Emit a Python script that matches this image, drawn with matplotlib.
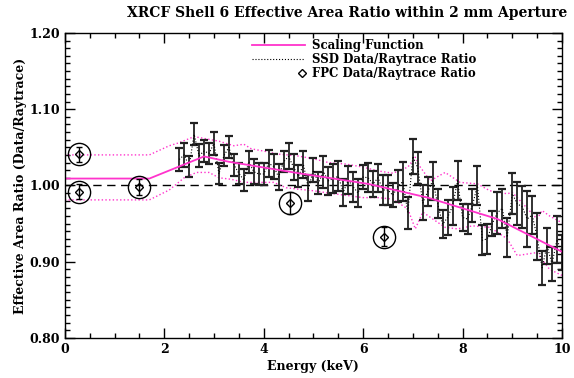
"""
XRCF Shell 6 effective area ratio (data/raytrace) within 2 mm aperture.
"""
import matplotlib
matplotlib.use('Agg')
import matplotlib.pyplot as plt
import numpy as np
from matplotlib.legend_handler import HandlerLine2D
from matplotlib.ticker import MultipleLocator, FormatStrFormatter

# SSD data/raytrace ratio (every 0.1 keV from 2.3 to 10.0 keV)
ssd_energy = np.round(np.arange(2.3, 10.05, 0.1), 1)
ssd_ratio = [
    1.034, 1.040, 1.025, 1.067, 1.039, 1.045, 1.042, 1.055, 1.015, 1.039,
    1.050, 1.027, 1.016, 1.007, 1.031, 1.018, 1.015, 1.015, 1.029, 1.025,
    1.011, 1.031, 1.038, 1.024, 1.012, 1.027, 0.996, 1.020, 1.003, 1.018,
    1.006, 1.009, 1.012, 0.991, 1.007, 0.998, 0.990, 1.011, 1.010, 1.002,
    1.010, 0.994, 0.994, 0.987, 0.999, 1.005, 0.964, 1.038, 1.023, 0.977,
    0.992, 1.006, 0.976, 0.949, 0.958, 0.973, 1.006, 0.958, 0.956, 0.974,
    1.000, 0.928, 0.930, 0.950, 0.964, 0.970, 0.932, 0.989, 0.976, 0.972,
    0.956, 0.961, 0.933, 0.892, 0.921, 0.897, 0.929, 0.912,
]
ssd_err = [
    0.0146, 0.0155, 0.0135, 0.0144, 0.0149, 0.0149, 0.0138, 0.0149, 0.0138, 0.0142,
    0.0144, 0.0146, 0.0138, 0.0146, 0.0142, 0.0164, 0.0149, 0.0144, 0.0175, 0.0164,
    0.0175, 0.0135, 0.0170, 0.0175, 0.0142, 0.0175, 0.0170, 0.0155, 0.0146, 0.0208,
    0.0186, 0.0186, 0.0199, 0.0175, 0.0186, 0.0201, 0.0186, 0.0153, 0.0192, 0.0175,
    0.0186, 0.0201, 0.0192, 0.0157, 0.0214, 0.0251, 0.0214, 0.0229, 0.0208, 0.0229,
    0.0190, 0.0249, 0.0192, 0.0181, 0.0232, 0.0247, 0.0256, 0.0175, 0.0197, 0.0218,
    0.0253, 0.0197, 0.0197, 0.0164, 0.0277, 0.0256, 0.0256, 0.0269, 0.0284, 0.0277,
    0.0365, 0.0247, 0.0306, 0.0225, 0.0234, 0.0218, 0.0306, 0.0227,
]

# Scaling function
scale_energy = [0.0, 1.7, 2.8, 3.3, 4.7, 6.1, 7.3, 8.7, 10.0]
scale_ratio = [1.009, 1.009, 1.038, 1.031, 1.016, 1.002, 0.984, 0.956, 0.913]

# Upper / lower envelopes (magenta dotted)
upper_energy = [0.0, 1.7, 2.1, 2.3, 2.6, 2.85, 3.1, 3.4, 3.6, 3.75, 4.0, 4.3,
                4.65, 5.0, 5.3, 5.65, 6.0, 6.3, 6.6, 6.9, 7.05, 7.15, 7.35,
                7.65, 7.95, 8.3, 8.55, 8.9, 9.0, 9.2, 9.5, 9.6, 9.75, 10.0]
upper_ratio = [1.040, 1.040, 1.052, 1.056, 1.064, 1.061, 1.058, 1.052, 1.054,
               1.048, 1.045, 1.041, 1.039, 1.035, 1.030, 1.028, 1.024, 1.019,
               1.016, 1.024, 1.037, 1.024, 1.006, 1.017, 1.004, 1.002, 0.993,
               0.989, 0.991, 0.977, 0.956, 0.967, 0.960, 0.951]
lower_energy = [0.0, 1.7, 2.1, 2.4, 2.65, 2.9, 3.1, 3.35, 3.6, 3.85, 4.2, 4.45,
                4.7, 5.0, 5.3, 5.65, 6.0, 6.3, 6.6, 6.9, 7.05, 7.2, 7.4, 7.65,
                7.9, 8.2, 8.55, 8.9, 9.1, 9.3, 9.5, 9.6, 9.75, 10.0]
lower_ratio = [0.981, 0.981, 0.994, 1.010, 1.017, 1.017, 1.010, 1.008, 1.004,
               1.004, 1.004, 0.997, 0.995, 0.993, 0.990, 0.987, 0.984, 0.984,
               0.982, 0.969, 0.943, 0.965, 0.956, 0.945, 0.943, 0.947, 0.945,
               0.930, 0.908, 0.910, 0.912, 0.903, 0.890, 0.882]

# FPC data/raytrace ratio
fpc_energy = [0.28, 0.28, 1.49, 4.53, 6.42]
fpc_ratio = [1.041, 0.992, 0.998, 0.977, 0.933]
fpc_err = [0.010, 0.010, 0.010, 0.015, 0.012]

pink = '#ff33cc'
font = {'family': 'DejaVu Serif', 'weight': 'bold'}
plt.rcParams['font.family'] = 'DejaVu Serif'
plt.rcParams['font.weight'] = 'bold'


class HandlerRightMarker(HandlerLine2D):
    # single legend marker at the right end of the handle (line is invisible)
    def get_xdata(self, legend, xdescent, ydescent, width, height, fontsize):
        xm = -xdescent + width - 0.06 * width
        return np.array([xm - 1.0, xm + 1.0]), np.array([xm])


fig = plt.figure(figsize=(5.74, 3.78), dpi=100)
ax = fig.add_axes([0.113, 0.106, 0.866, 0.807])

ax.axhline(1.0, color='black', linestyle=(0, (6, 4)), linewidth=1.0)

ax.plot(upper_energy, upper_ratio, color=pink, linestyle=':', linewidth=1.0)
ax.plot(lower_energy, lower_ratio, color=pink, linestyle=':', linewidth=1.0)

ax.errorbar(ssd_energy, ssd_ratio, yerr=ssd_err, fmt='none', ecolor='#222222',
            elinewidth=1.3, capsize=3, capthick=1.6)
ax.plot(ssd_energy, ssd_ratio, color='black', linestyle=':', linewidth=0.8,
        label='SSD Data/Raytrace Ratio')

ax.plot(scale_energy, scale_ratio, color=pink, linewidth=1.3,
        label='Scaling Function')

ax.errorbar(fpc_energy, fpc_ratio, yerr=fpc_err, fmt='none', ecolor='black',
            elinewidth=1.0, capsize=2, capthick=1.0)
ax.plot(fpc_energy, fpc_ratio, linestyle='none', marker='o', markersize=16,
        markerfacecolor='none', markeredgecolor='black', markeredgewidth=1.0)
fpc_line, = ax.plot(fpc_energy, fpc_ratio, linestyle='none', marker='D',
                    markersize=4.5, markerfacecolor='none',
                    markeredgecolor='black', markeredgewidth=1.0,
                    label='FPC Data/Raytrace Ratio')

ax.set_xlim(0, 10)
ax.set_ylim(0.80, 1.20)
ax.xaxis.set_major_locator(MultipleLocator(2))
ax.xaxis.set_minor_locator(MultipleLocator(0.5))
ax.yaxis.set_major_locator(MultipleLocator(0.1))
ax.yaxis.set_minor_locator(MultipleLocator(0.01))
ax.yaxis.set_major_formatter(FormatStrFormatter('%.2f'))
ax.tick_params(which='both', direction='in', top=True, right=True,
               labelsize=9, width=1.0, colors='black')
ax.tick_params(which='major', length=7)
ax.tick_params(which='minor', length=3.5)
for sp in ax.spines.values():
    sp.set_linewidth(1.0)

fig.text(347 / 574, 1 - 13 / 378,
         'XRCF Shell 6 Effective Area Ratio within 2 mm Aperture',
         fontsize=10, fontdict=font, ha='center', va='center')
ax.set_xlabel('Energy (keV)', fontsize=9, fontdict=font, labelpad=3)
ax.set_ylabel('Effective Area Ratio (Data/Raytrace)', fontsize=9,
              fontdict=font, labelpad=2)

handles, labels = ax.get_legend_handles_labels()
order = [labels.index('Scaling Function'), labels.index('SSD Data/Raytrace Ratio'),
         labels.index('FPC Data/Raytrace Ratio')]
ax.legend([handles[i] for i in order], [labels[i] for i in order],
          loc='upper right', bbox_to_anchor=(0.85, 1.015), frameon=False,
          fontsize=8.5, handlelength=4.5, handletextpad=0.6, labelspacing=0.1,
          handler_map={fpc_line: HandlerRightMarker()})

fig.savefig('out.png', dpi=100)
